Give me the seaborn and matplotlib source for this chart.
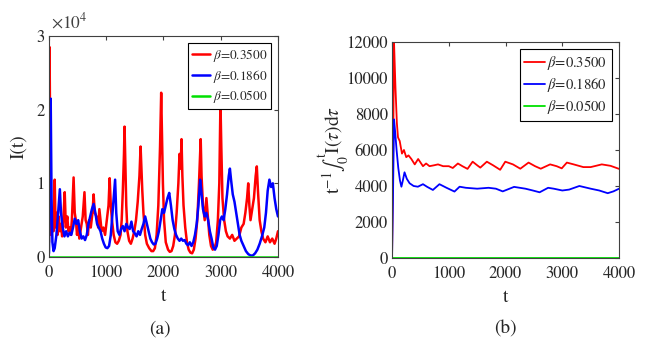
import numpy as np
import pandas as pd
import matplotlib
matplotlib.use("Agg")
import matplotlib.pyplot as plt
import seaborn as sns

# ---- data (I in thousands) ----
t_red_a = [0, 10, 25, 40, 60, 80, 100, 115, 135, 150, 170, 190, 210, 230, 250, 275, 295, 320, 340, 360,
           380, 400, 430, 450, 470, 490, 510, 530, 560, 590, 620, 640, 660, 680, 700, 730, 760, 780, 800, 830,
           860, 880, 900, 920, 950, 980, 1010, 1040, 1060, 1080, 1100, 1130, 1160, 1190, 1220, 1250, 1270, 1290, 1310, 1320,
           1335, 1350, 1370, 1400, 1430, 1460, 1490, 1520, 1550, 1580, 1600, 1615, 1630, 1650, 1680, 1710, 1750, 1790, 1820, 1850,
           1880, 1910, 1940, 1960, 1975, 1990, 2010, 2040, 2080, 2110, 2140, 2170, 2200, 2230, 2260, 2280, 2300, 2315, 2330, 2350,
           2380, 2410, 2440, 2470, 2500, 2530, 2560, 2590, 2620, 2650, 2665, 2690, 2720, 2750, 2770, 2800, 2830, 2860, 2890, 2920,
           2950, 2975, 2995, 3010, 3030, 3060, 3090, 3120, 3160, 3200, 3240, 3280, 3320, 3360, 3400, 3430, 3460, 3480, 3500, 3520,
           3550, 3580, 3610, 3630, 3650, 3680, 3710, 3740, 3780, 3820, 3860, 3900, 3940, 3970, 4000]
I_red_a = [2, 28.5, 12, 3, 5, 3.5, 10.5, 4, 6, 3, 5.5, 3.5, 4.5, 2.8, 5, 8.8, 4, 5.5, 3.5, 4,
           3, 5, 10.8, 6, 5, 3, 4.5, 2.5, 4, 5.5, 8.8, 5, 4.5, 3, 5, 4, 6, 8.5, 6, 5.5,
           4, 6.5, 5, 3.5, 4, 3, 5, 7, 10.7, 7, 5, 3, 2, 1.8, 2.2, 3, 5, 9, 14, 17.7,
           12, 7, 3.5, 2.2, 1.8, 2.5, 3.5, 5, 7.5, 11, 15, 12, 9, 6, 3, 1.8, 1.2, 0.8, 0.8, 1.2,
           3, 7, 15, 22.3, 16, 10, 5, 2, 1, 0.7, 0.8, 1.5, 3, 6, 10, 14, 12, 16, 11, 7,
           4, 2, 1, 0.6, 0.5, 1, 2.5, 5, 10, 16, 11, 7, 5, 8, 6, 3, 1.5, 1, 1.2, 2,
           5, 10, 21, 15, 8, 5, 3.5, 2.8, 2.5, 3, 2.2, 2.5, 2.8, 4, 4.5, 6, 8, 10, 7, 5,
           6.5, 8, 11, 12.3, 9, 5, 3.5, 2.5, 2, 2.8, 2, 2.5, 1.8, 2.5, 3.5]

t_blue_a = [0, 15, 30, 45, 60, 80, 100, 130, 160, 190, 210, 240, 270, 300, 330, 360, 390, 420, 450, 480,
            510, 540, 570, 600, 630, 660, 690, 720, 750, 780, 810, 840, 870, 900, 930, 960, 990, 1020, 1050, 1080,
            1110, 1140, 1155, 1175, 1200, 1230, 1260, 1290, 1320, 1350, 1380, 1410, 1440, 1470, 1500, 1530, 1560, 1590, 1620, 1650,
            1680, 1710, 1740, 1770, 1800, 1830, 1860, 1890, 1920, 1950, 1980, 2010, 2040, 2070, 2100, 2130, 2160, 2190, 2220, 2250,
            2280, 2310, 2340, 2370, 2400, 2430, 2460, 2490, 2520, 2550, 2580, 2610, 2640, 2660, 2690, 2720, 2750, 2780, 2810, 2840,
            2870, 2900, 2930, 2960, 2990, 3020, 3050, 3080, 3110, 3140, 3160, 3180, 3210, 3240, 3270, 3300, 3330, 3360, 3400, 3440,
            3480, 3520, 3560, 3600, 3640, 3680, 3720, 3760, 3790, 3820, 3850, 3880, 3910, 3940, 3970, 4000]
I_blue_a = [0.5, 10, 21.5, 8, 2, 0.8, 1.2, 3, 6, 9.2, 6, 4, 2.8, 3.5, 2.8, 3.3, 3, 4, 5.2, 4.5,
            5, 3.5, 2.5, 2.8, 2.3, 3, 4.5, 5.5, 6.5, 7.2, 6, 4.5, 4, 3.5, 2.5, 1.8, 1.3, 1.2, 1.5, 3,
            6, 9, 10.5, 6, 3.5, 3, 3.8, 4.2, 3.5, 4.5, 4, 3.8, 4.8, 3.5, 3.2, 2.8, 3.5, 3, 3.8, 4.5,
            5.5, 4.5, 3.5, 2.5, 2, 1.7, 1.8, 2.5, 3.5, 5, 6.5, 6, 7, 8, 8.7, 7, 5, 3.8, 3, 2.5,
            2.2, 2.5, 2.2, 2.3, 1.8, 1.6, 2, 1.5, 2, 3, 4.5, 7, 10.5, 9, 6.5, 5.5, 6, 5, 3.5, 2.5,
            1.3, 1, 1.5, 3, 5, 5.5, 5, 6.5, 8.5, 11, 12, 10.5, 8.5, 7.5, 6, 4.5, 3, 2.2, 1.5, 0.8,
            0.4, 0.2, 0.2, 0.5, 1, 1.8, 2.8, 4, 6, 9, 10.5, 9.5, 10, 8, 6.5, 5.5]

t_green = [0, 4000]
I_green = [0, 0]

# time averages for panel (b)
t_red_b = [0, 20, 35, 60, 85, 105, 135, 175, 210, 250, 290, 340, 400, 460, 545, 600, 660, 740, 810, 900,
           1000, 1070, 1160, 1240, 1330, 1420, 1500, 1555, 1670, 1780, 1905, 1995, 2130, 2260, 2405, 2520, 2620, 2785, 2900, 2990,
           3080, 3200, 3370, 3500, 3605, 3695, 3850, 4000]
A_red_b = [0, 6, 12, 9.5, 7.5, 6.7, 6.5, 5.8, 6.0, 5.6, 5.7, 5.5, 5.2, 5.5, 5.1, 5.25, 5.1, 5.15, 5.2, 5.1,
           5.1, 5.0, 5.25, 5.1, 4.95, 5.35, 5.15, 5.02, 5.35, 5.15, 4.9, 5.35, 5.2, 4.96, 5.3, 5.1, 4.96, 5.2, 5.1, 4.98,
           5.3, 5.2, 5.05, 5.05, 5.13, 5.2, 5.12, 4.95]

t_blue_b = [0, 15, 35, 55, 80, 110, 140, 165, 190, 220, 260, 310, 380, 455, 545, 620, 720, 835, 960, 1100,
            1190, 1300, 1500, 1700, 1830, 1950, 2150, 2350, 2480, 2600, 2750, 2850, 3000, 3120, 3300, 3500, 3650, 3800, 3900, 4000]
A_blue_b = [0, 3, 7.7, 7.0, 6.0, 5.0, 4.3, 3.96, 4.3, 4.76, 4.4, 4.15, 4.0, 3.96, 4.1, 3.95, 3.78, 4.1, 3.9, 3.69,
            3.96, 3.9, 3.85, 3.9, 3.85, 3.7, 3.95, 3.85, 3.75, 3.65, 3.9, 3.85, 3.75, 3.8, 4.0, 3.85, 3.75, 3.6, 3.7, 3.85]

labels = [r'$\beta$=0.3500', r'$\beta$=0.1860', r'$\beta$=0.0500']
colors = ['#ff0000', '#0000ff', '#00e000']

df_a = pd.concat([
    pd.DataFrame({'t': t_red_a, 'v': np.array(I_red_a) * 1000, 'beta': labels[0]}),
    pd.DataFrame({'t': t_blue_a, 'v': np.array(I_blue_a) * 1000, 'beta': labels[1]}),
    pd.DataFrame({'t': t_green, 'v': I_green, 'beta': labels[2]}),
])
df_b = pd.concat([
    pd.DataFrame({'t': t_red_b, 'v': np.array(A_red_b) * 1000, 'beta': labels[0]}),
    pd.DataFrame({'t': t_blue_b, 'v': np.array(A_blue_b) * 1000, 'beta': labels[1]}),
    pd.DataFrame({'t': t_green, 'v': I_green, 'beta': labels[2]}),
])

sns.set_style('white')
plt.rcParams['font.family'] = ['STIXGeneral', 'DejaVu Serif']
plt.rcParams['mathtext.fontset'] = 'stix'
plt.rcParams['font.size'] = 12

fig = plt.figure(figsize=(6.6, 3.44), dpi=100)
ax1 = fig.add_axes([0.0742, 0.2529, 0.347, 0.6424])
ax2 = fig.add_axes([0.594, 0.25, 0.344, 0.628])

pal = dict(zip(labels, colors))
sns.lineplot(data=df_a, x='t', y='v', hue='beta', palette=pal, estimator=None,
             sort=False, linewidth=1.8, ax=ax1)
sns.lineplot(data=df_b, x='t', y='v', hue='beta', palette=pal, estimator=None,
             sort=False, linewidth=1.3, ax=ax2)

for ax, lfs in ((ax1, 9.5), (ax2, 10.5)):
    ax.set_xlim(0, 4000)
    ax.set_xticks([0, 1000, 2000, 3000, 4000])
    ax.tick_params(direction='in', length=3, top=True, right=True, labelsize=12, pad=6,
                   color='#404040')
    ax.tick_params(axis='y', pad=3)
    for s in ax.spines.values():
        s.set_color('#404040')
        s.set_linewidth(0.8)
    ax.set_xlabel('t', fontsize=14, labelpad=5)
    leg = ax.legend(loc='upper right', fontsize=lfs, frameon=True, fancybox=False,
                    edgecolor='black', framealpha=1, handlelength=1.4, handletextpad=0.2,
                    labelspacing=0.3, borderpad=0.3, borderaxespad=0.5)
    leg.get_frame().set_linewidth(0.8)

ax1.set_ylim(0, 30000)
ax1.set_yticks([0, 10000, 20000, 30000])
ax1.set_yticklabels(['0', '1', '2', '3'])
ax1.text(0.01, 1.02, r'$\times10^4$', transform=ax1.transAxes, fontsize=12.5,
         ha='left', va='bottom', color='#404040')
ax1.set_ylabel('I(t)', fontsize=14, labelpad=7)

ax2.set_ylim(0, 12000)
ax2.set_yticks(range(0, 12001, 2000))
ax2.set_ylabel(r'$\mathrm{t}^{-1}\int_0^{\mathrm{t}}\mathrm{I}(\tau)\mathrm{d}\tau$', fontsize=14)
ax2.yaxis.set_label_coords(-0.175, 0.5)

fig.text(0.2417, 0.02, '(a)', ha='center', va='bottom', fontsize=14)
fig.text(0.766, 0.02, '(b)', ha='center', va='bottom', fontsize=14)

fig.savefig('out.png', dpi=100)
